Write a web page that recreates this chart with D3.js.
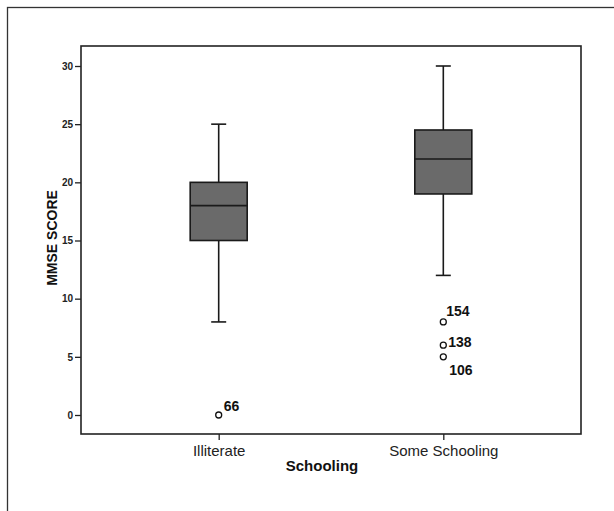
<!DOCTYPE html>
<html>
<head>
<meta charset="utf-8">
<script src="https://cdn.jsdelivr.net/npm/d3@7"></script>
<style>
  body { margin: 0; background: #fff; }
  svg { display: block; font-family: Arial, "Liberation Sans", sans-serif; }
</style>
</head>
<body>
<div id="chart"></div>
<script>
// ---- data ----
const categories = ['Illiterate', 'Some Schooling'];
const whiskerLow = [8, 12];
const q1 = [15, 19];
const median = [18, 22];
const q3 = [20, 24.5];
const whiskerHigh = [25, 30];
const outlierGroup = ['Illiterate', 'Some Schooling', 'Some Schooling', 'Some Schooling'];
const outlierValue = [0, 8, 6, 5];
const outlierCase = ['66', '154', '138', '106'];
const yTicks = [0, 5, 10, 15, 20, 25, 30];

const W = 614, H = 511;
const plot = { left: 81, right: 581, top: 46, bottom: 434 };

const svg = d3.select('#chart').append('svg')
  .attr('width', W).attr('height', H);

// outer frame (runs off the right and bottom edge)
svg.append('rect')
  .attr('x', 7.5).attr('y', 7.5)
  .attr('width', 640).attr('height', 540)
  .attr('fill', 'none').attr('stroke', '#333').attr('stroke-width', 1.3);

// plot frame
svg.append('rect')
  .attr('x', plot.left).attr('y', plot.top)
  .attr('width', plot.right - plot.left).attr('height', plot.bottom - plot.top)
  .attr('fill', 'none').attr('stroke', '#222').attr('stroke-width', 1.6);

const x = d3.scalePoint()
  .domain(categories)
  .range([plot.left, plot.right])
  .padding(0.613);

const y = d3.scaleLinear()
  .domain([0, 30])
  .range([415, 66]);

// axes
const yAxis = svg.append('g')
  .attr('transform', `translate(${plot.left},0)`)
  .call(d3.axisLeft(y).tickValues(yTicks).tickSize(6).tickPadding(2));
yAxis.select('.domain').remove();
yAxis.selectAll('line').attr('stroke', '#222').attr('stroke-width', 1.3);
yAxis.selectAll('text')
  .attr('fill', '#222')
  .style('font-size', '10px')
  .style('font-weight', 'bold');

const xAxis = svg.append('g')
  .attr('transform', `translate(0,${plot.bottom})`)
  .call(d3.axisBottom(x).tickSize(6).tickPadding(5));
xAxis.select('.domain').remove();
xAxis.selectAll('line').attr('stroke', '#222').attr('stroke-width', 1.3);
xAxis.selectAll('text')
  .attr('fill', '#222')
  .style('font-size', '15px');

// axis titles
svg.append('text')
  .attr('x', 322).attr('y', 471)
  .attr('text-anchor', 'middle')
  .style('font-size', '15px').style('font-weight', 'bold')
  .attr('fill', '#111')
  .text('Schooling');

svg.append('text')
  .attr('transform', `translate(57,238) rotate(-90)`)
  .attr('text-anchor', 'middle')
  .style('font-size', '14px').style('font-weight', 'bold')
  .attr('fill', '#111')
  .text('MMSE SCORE');

// boxes
const boxW = 57, capW = 15;
const boxes = categories.map((c, i) => ({
  c, lo: whiskerLow[i], q1: q1[i], med: median[i], q3: q3[i], hi: whiskerHigh[i]
}));

const g = svg.append('g').attr('stroke', '#1a1a1a').attr('stroke-width', 1.6);

boxes.forEach(b => {
  const cx = x(b.c);
  // whiskers
  g.append('line').attr('x1', cx).attr('x2', cx).attr('y1', y(b.q3)).attr('y2', y(b.hi));
  g.append('line').attr('x1', cx).attr('x2', cx).attr('y1', y(b.q1)).attr('y2', y(b.lo));
  g.append('line').attr('x1', cx - capW / 2).attr('x2', cx + capW / 2).attr('y1', y(b.hi)).attr('y2', y(b.hi));
  g.append('line').attr('x1', cx - capW / 2).attr('x2', cx + capW / 2).attr('y1', y(b.lo)).attr('y2', y(b.lo));
  // box
  g.append('rect')
    .attr('x', cx - boxW / 2).attr('y', y(b.q3))
    .attr('width', boxW).attr('height', y(b.q1) - y(b.q3))
    .attr('fill', '#6a6a6a');
  g.append('line').attr('x1', cx - boxW / 2).attr('x2', cx + boxW / 2).attr('y1', y(b.med)).attr('y2', y(b.med));
});

// outliers
const outliers = outlierValue.map((v, i) => ({ g: outlierGroup[i], v, id: outlierCase[i] }));
// label offsets (dx, dy to baseline) as SPSS places them
const labelOffset = { '66': [5, -4], '154': [3, -6], '138': [5, 2], '106': [6, 18] };

svg.append('g').selectAll('circle')
  .data(outliers).join('circle')
  .attr('cx', d => x(d.g)).attr('cy', d => y(d.v))
  .attr('r', 3)
  .attr('fill', '#fff').attr('stroke', '#111').attr('stroke-width', 1.3);

svg.append('g').selectAll('text')
  .data(outliers).join('text')
  .attr('x', d => x(d.g) + labelOffset[d.id][0])
  .attr('y', d => y(d.v) + labelOffset[d.id][1])
  .style('font-size', '14px').style('font-weight', 'bold')
  .attr('fill', '#111')
  .text(d => d.id);
</script>
</body>
</html>
